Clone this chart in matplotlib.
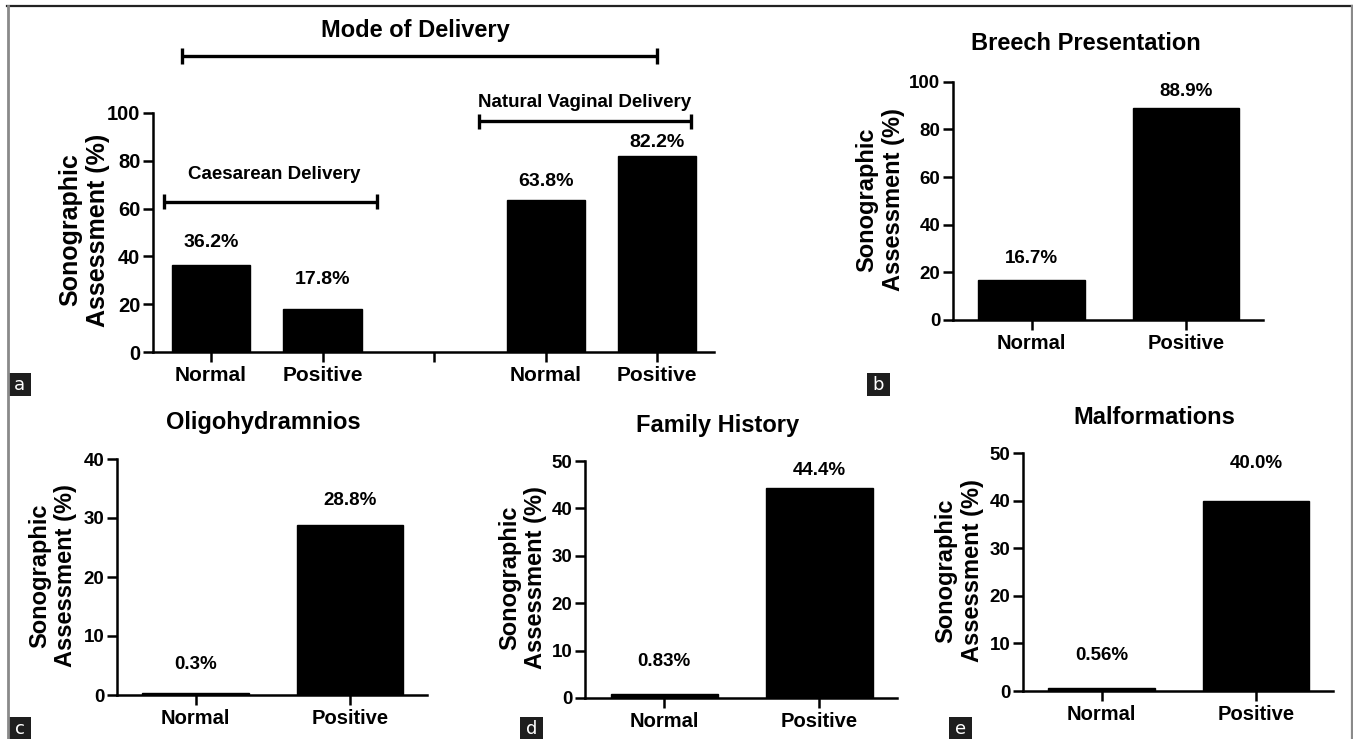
import matplotlib
matplotlib.use("Agg")
import matplotlib.pyplot as plt
from matplotlib.patches import Rectangle
from matplotlib.lines import Line2D

# ---- data -------------------------------------------------------------
categories = ["Normal", "Positive"]
delivery_groups = ["Caesarean Delivery", "Natural Vaginal Delivery"]
caesarean = [36.2, 17.8]
vaginal = [63.8, 82.2]
breech = [16.7, 88.9]
oligohydramnios = [0.3, 28.8]
family_history = [0.83, 44.4]
malformations = [0.56, 40.0]

titles = ["Mode of Delivery", "Breech Presentation", "Oligohydramnios",
          "Family History", "Malformations"]
ylabel = "Sonographic\nAssessment (%)"
panel_letters = ["a", "b", "c", "d", "e"]

# ---- layout -----------------------------------------------------------
W, H = 1353, 739
FONT = "Liberation Sans"
plt.rcParams["font.family"] = [FONT, "DejaVu Sans"]
plt.rcParams["font.weight"] = "bold"

fig = plt.figure(figsize=(W / 100, H / 100), dpi=100)


def fx(x):
    return x / W


def fy(y):
    return 1 - y / H


def add_axes(l, t, r, b):
    return fig.add_axes([fx(l), fy(b), (r - l) / W, (b - t) / H])


def style(ax, ymax, ystep, tick_fs, lw=1.8):
    for s in ("top", "right"):
        ax.spines[s].set_visible(False)
    for s in ("left", "bottom"):
        ax.spines[s].set_linewidth(lw)
    ax.set_ylim(0, ymax)
    ax.set_yticks(range(0, ymax + 1, ystep))
    ax.tick_params(direction="out", length=7, width=lw, pad=2,
                   labelsize=tick_fs)
    for lab in ax.get_yticklabels():
        lab.set_fontweight("bold")


def value_labels(ax, xs, vals, offsets, decimals, fs):
    for x, v, off, d in zip(xs, vals, offsets, decimals):
        ax.text(x, v + off, f"{v:.{d}f}%", ha="center", va="center",
                fontsize=fs, fontweight="bold")


def letter_box(l, t, r, b, letter):
    fig.patches.append(Rectangle((fx(l), fy(b)), (r - l) / W, (b - t) / H,
                                 transform=fig.transFigure,
                                 facecolor="#1e1e1e", edgecolor="none"))
    fig.text(fx((l + r) / 2), fy((t + b) / 2 + 1), letter, color="white",
             ha="center", va="center", fontsize=13, fontweight="normal",
             family="DejaVu Sans")


def ylab(x, y, fs=17):
    fig.text(fx(x), fy(y), ylabel, rotation=90, ha="center", va="center",
             multialignment="center", fontsize=fs, fontweight="bold",
             linespacing=1.18)


# ---- panel a: mode of delivery ---------------------------------------
axa = add_axes(153, 113, 714, 352)
pos_a = [0, 1, 3, 4]
vals_a = caesarean + vaginal
axa.bar(pos_a, vals_a, width=0.7, color="black", edgecolor="black")
axa.set_xlim(-0.52, 4.51)
style(axa, 100, 20, 14.5)
axa.set_xticks([0, 1, 2, 3, 4])
axa.set_xticklabels(categories + [""] + categories, fontsize=15,
                    fontweight="bold")
axa.tick_params(axis="x", pad=3)
value_labels(axa, pos_a, vals_a, [9.7, 12.5, 7.5, 5.5], [1, 1, 1, 1], 14)


def bracket(ax, x0, x1, y, cap=3.2, lw=2.4):
    kw = dict(color="black", lw=lw, clip_on=False, solid_capstyle="butt")
    ax.plot([x0, x1], [y, y], **kw)
    ax.plot([x0, x0], [y - cap, y + cap], **kw)
    ax.plot([x1, x1], [y - cap, y + cap], **kw)


bracket(axa, -0.26, 4.0, 123.8)
bracket(axa, -0.42, 1.49, 62.9)
bracket(axa, 2.40, 4.30, 96.5)
axa.text(0.57, 74.1, delivery_groups[0], ha="center", va="center",
         fontsize=13.5, fontweight="bold")
axa.text(3.35, 104.2, delivery_groups[1], ha="center", va="center",
         fontsize=13.5, fontweight="bold", clip_on=False)
fig.text(fx(415), fy(30), titles[0], ha="center", va="center", fontsize=17,
         fontweight="bold")
ylab(84, 230, 18)

# ---- panels b-e --------------------------------------------------------
panels = [
    # (values, box l,t,r,b, ymax, ystep, label offsets, decimals,
    #  title xy, ylabel xy)
    (breech, (953, 81.7, 1263, 320), 100, 20, [9.3, 6.9], [1, 1],
     (1086, 44), (880, 200)),
    (oligohydramnios, (117, 459, 427, 695), 40, 10, [4.8, 4.25], [1, 1],
     (263, 422), (52.5, 576)),
    (family_history, (585, 461, 897, 698), 50, 10, [6.8, 3.5], [2, 1],
     (718, 425), (522.5, 578)),
    (malformations, (1023, 453, 1333, 691), 50, 10, [7.0, 7.7], [2, 1],
     (1154, 417), (959, 571)),
]

for i, (vals, bx, ymax, ystep, offs, decs, tpos, lpos) in enumerate(panels):
    ax = add_axes(*bx)
    ax.bar([0, 1], vals, width=0.69, color="black", edgecolor="black")
    ax.set_xlim(-0.51, 1.5)
    style(ax, ymax, ystep, 13.5)
    ax.set_xticks([0, 1])
    ax.set_xticklabels(categories, fontsize=14.5, fontweight="bold")
    ax.tick_params(axis="x", pad=3)
    value_labels(ax, [0, 1], vals, offs, decs, 13.5)
    fig.text(fx(tpos[0]), fy(tpos[1]), titles[i + 1], ha="center",
             va="center", fontsize=17, fontweight="bold")
    ylab(*lpos)

# ---- frame and panel letters -----------------------------------------
fig.lines.append(Line2D([fx(7), fx(W)], [fy(6), fy(6)], color="#222222",
                        lw=1.6, transform=fig.transFigure))
fig.lines.append(Line2D([fx(7.5), fx(7.5)], [fy(6), fy(H)], color="#8a8a8a",
                        lw=2.0, transform=fig.transFigure))
fig.lines.append(Line2D([fx(1352), fx(1352)], [fy(6), fy(H)],
                        color="#8a8a8a", lw=1.6, transform=fig.transFigure))

letter_box(8, 373, 31, 396, panel_letters[0])
letter_box(867, 373, 890, 396, panel_letters[1])
letter_box(8, 717, 31, 739, panel_letters[2])
letter_box(520, 717, 543, 739, panel_letters[3])
letter_box(949, 717, 972, 739, panel_letters[4])

fig.savefig("out.png", dpi=100, facecolor="white")
